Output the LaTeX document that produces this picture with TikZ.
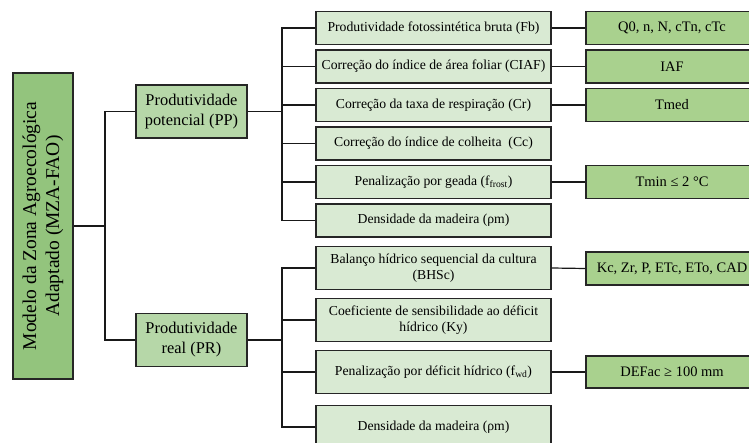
\documentclass[tikz,border=0pt]{standalone}
\usepackage{fontspec}
\setmainfont{Liberation Serif}
\definecolor{mzagreen}{HTML}{93C47D}
\definecolor{levelgreen}{HTML}{B6D7A8}
\definecolor{paramgreen}{HTML}{D9EAD3}
\definecolor{inputgreen}{HTML}{A9D18E}
\tikzset{
    box/.style={draw=black!85, line width=1.4pt, inner sep=2pt, align=center},
    mainbox/.style={box, fill=mzagreen, font=\fontsize{19.5}{23}\selectfont},
    levelbox/.style={box, fill=levelgreen, minimum width=111pt, minimum height=53pt, font=\fontsize{16.4}{20}\selectfont},
    parambox/.style={box, fill=paramgreen, minimum width=235pt, minimum height=33pt, font=\fontsize{13.7}{16.5}\selectfont},
    inputbox/.style={box, fill=inputgreen, minimum width=172pt, minimum height=33pt, font=\fontsize{14.5}{17}\selectfont},
    link/.style={line width=1.2pt, black!90}
}
\begin{document}
\begin{tikzpicture}[x=1pt,y=-1pt]
    \clip (0,0) rectangle (749,443);

    % MZA-FAO model
    \node[mainbox, rotate=90, minimum width=306pt, minimum height=60pt] (mza) at (43,226)
        {Modelo da Zona Agroecológica\\Adaptado (MZA-FAO)};

    % potential and real productivity
    \node[levelbox] (pp) at (191.5,111.5) {Produtividade\\potencial (PP)};
    \node[levelbox] (pr) at (191.5,340) {Produtividade\\real (PR)};

    % PP components
    \node[parambox] (fb) at (433.5,28) {Produtividade fotossintética bruta (Fb)};
    \node[parambox] (ciaf) at (433.5,66.5) {Correção do índice de área foliar (CIAF)};
    \node[parambox] (cr) at (433.5,105) {Correção da taxa de respiração (Cr)};
    \node[parambox] (cc) at (433.5,143.5) {Correção do índice de colheita~ (Cc)};
    \node[parambox] (frost) at (433.5,182) {Penalização por geada (f\textsubscript{frost})};
    \node[parambox] (dmpp) at (433.5,220.5) {Densidade da madeira (ρm)};

    % PR components
    \node[parambox, minimum height=43pt] (bhsc) at (433.5,268) {Balanço hídrico sequencial da cultura\\(BHSc)};
    \node[parambox, minimum height=43pt] (ky) at (433.5,320) {Coeficiente de sensibilidade ao déficit\\hídrico (Ky)};
    \node[parambox, minimum height=43pt] (fwd) at (433.5,372) {Penalização por déficit hídrico (f\textsubscript{wd})};
    \node[parambox, minimum height=43pt] (dmpr) at (433.5,427) {Densidade da madeira (ρm)};

    % input variables
    \node[inputbox] (inFb) at (672,28) {Q0, n, N, cTn, cTc};
    \node[inputbox] (inCiaf) at (672,66.5) {IAF};
    \node[inputbox] (inCr) at (672,105) {Tmed};
    \node[inputbox] (inFrost) at (672,182) {Tmin ≤ 2 °C};
    \node[inputbox] (inBhsc) at (672,268.5) {Kc, Zr, P, ETc, ETo, CAD};
    \node[inputbox, minimum height=32pt] (inFwd) at (672,372) {DEFac ≥ 100 mm};

    % tree lines
    \coordinate (mzaj) at (105,226);
    \draw[link] (mza.south) -- (mzaj);
    \draw[link] (pp.west) -| (mzaj);
    \draw[link] (pr.west) -| (mzaj);

    \coordinate (ppj) at (282,111.5);
    \draw[link] (pp.east) -- (ppj);
    \foreach \n in {fb,ciaf,cr,cc,frost,dmpp}
        \draw[link] (\n.west) -| (ppj);

    \coordinate (prj) at (282,340);
    \draw[link] (pr.east) -- (prj);
    \foreach \n in {bhsc,ky,fwd,dmpr}
        \draw[link] (\n.west) -| (prj);

    \draw[link] (fb.east) -- (inFb.west);
    \draw[link] (ciaf.east) -- (inCiaf.west);
    \draw[link] (cr.east) -- (inCr.west);
    \draw[link] (frost.east) -- (inFrost.west);
    \draw[link] (bhsc.east) -- (inBhsc.west);
    \draw[link] (fwd.east) -- (inFwd.west);
\end{tikzpicture}
\end{document}
